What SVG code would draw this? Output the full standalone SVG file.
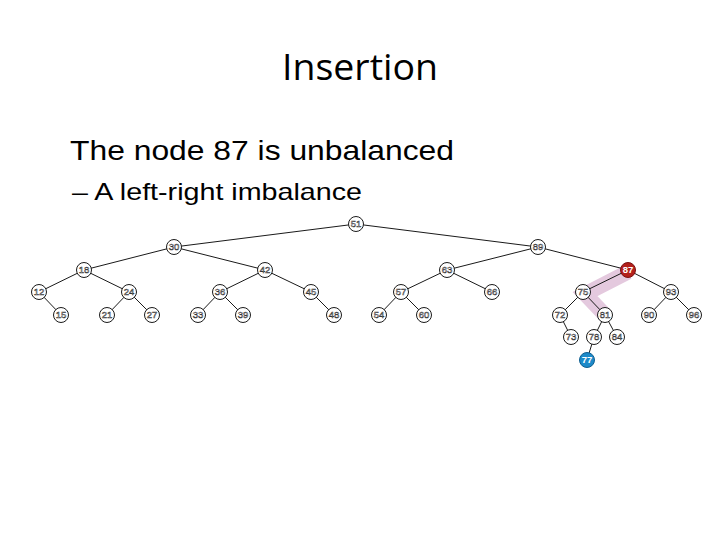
<svg xmlns="http://www.w3.org/2000/svg" width="720" height="540" viewBox="0 0 720 540">
<style>
.e{stroke:#1a1a1a;stroke-width:1;fill:none}
.n circle{fill:#fff;stroke:#1a1a1a;stroke-width:1}
.n text{font-family:"Liberation Sans",Arial,sans-serif;font-size:9.5px;fill:#fff;stroke:#333;stroke-width:0.5;text-anchor:middle}
.hot circle{fill:#b3201c;stroke:#7a1010}
.hot text{fill:#fff;stroke:none;font-weight:bold}
.new circle{fill:#1d8ac9;stroke:#0f5f90}
.new text{fill:#fff;stroke:none;font-weight:bold}
</style>
<rect width="720" height="540" fill="#fff"/>
<text x="360" y="80" font-family="'Open Sans','Noto Sans',sans-serif" font-size="37" text-anchor="middle" fill="#000" textLength="156" lengthAdjust="spacingAndGlyphs">Insertion</text>
<text x="70" y="160" font-family="'Liberation Sans',Arial,sans-serif" font-size="28" fill="#000" textLength="384" lengthAdjust="spacingAndGlyphs">The node 87 is unbalanced</text>
<text x="72" y="200" font-family="'Liberation Sans',Arial,sans-serif" font-size="24" fill="#000" textLength="290" lengthAdjust="spacingAndGlyphs">– A left-right imbalance</text>
<path d="M628,272 L585,294 L606,316" fill="none" stroke="#e4c9de" stroke-width="15" stroke-linejoin="miter"/>
<g id="connectors" class="e">
<line x1="356" y1="224" x2="174" y2="247"/>
<line x1="356" y1="224" x2="538" y2="247"/>
<line x1="174" y1="247" x2="84" y2="270"/>
<line x1="174" y1="247" x2="265" y2="270"/>
<line x1="538" y1="247" x2="447" y2="270"/>
<line x1="538" y1="247" x2="628" y2="270"/>
<line x1="84" y1="270" x2="39" y2="292"/>
<line x1="84" y1="270" x2="129" y2="292"/>
<line x1="265" y1="270" x2="220" y2="292"/>
<line x1="265" y1="270" x2="311" y2="292"/>
<line x1="447" y1="270" x2="401" y2="292"/>
<line x1="447" y1="270" x2="492" y2="292"/>
<line x1="628" y1="270" x2="583" y2="292"/>
<line x1="628" y1="270" x2="671" y2="292"/>
<line x1="39" y1="292" x2="61" y2="315"/>
<line x1="129" y1="292" x2="107" y2="315"/>
<line x1="129" y1="292" x2="152" y2="315"/>
<line x1="220" y1="292" x2="198" y2="315"/>
<line x1="220" y1="292" x2="243" y2="315"/>
<line x1="311" y1="292" x2="334" y2="315"/>
<line x1="401" y1="292" x2="379" y2="315"/>
<line x1="401" y1="292" x2="424" y2="315"/>
<line x1="583" y1="292" x2="560" y2="315"/>
<line x1="583" y1="292" x2="605" y2="315"/>
<line x1="671" y1="292" x2="649" y2="315"/>
<line x1="671" y1="292" x2="694" y2="315"/>
<line x1="560" y1="315" x2="571" y2="337"/>
<line x1="605" y1="315" x2="594" y2="337"/>
<line x1="605" y1="315" x2="617" y2="337"/>
<line x1="594" y1="337" x2="587" y2="360"/>
</g>
<g id="n51" class="n"><circle cx="356" cy="224" r="7.5"/><text x="356" y="227.4">51</text></g>
<g id="n30" class="n"><circle cx="174" cy="247" r="7.5"/><text x="174" y="250.4">30</text></g>
<g id="n89" class="n"><circle cx="538" cy="247" r="7.5"/><text x="538" y="250.4">89</text></g>
<g id="n18" class="n"><circle cx="84" cy="270" r="7.5"/><text x="84" y="273.4">18</text></g>
<g id="n42" class="n"><circle cx="265" cy="270" r="7.5"/><text x="265" y="273.4">42</text></g>
<g id="n63" class="n"><circle cx="447" cy="270" r="7.5"/><text x="447" y="273.4">63</text></g>
<g id="n87" class="n hot"><circle cx="628" cy="270" r="7.5"/><text x="628" y="273.4">87</text></g>
<g id="n12" class="n"><circle cx="39" cy="292" r="7.5"/><text x="39" y="295.4">12</text></g>
<g id="n24" class="n"><circle cx="129" cy="292" r="7.5"/><text x="129" y="295.4">24</text></g>
<g id="n36" class="n"><circle cx="220" cy="292" r="7.5"/><text x="220" y="295.4">36</text></g>
<g id="n45" class="n"><circle cx="311" cy="292" r="7.5"/><text x="311" y="295.4">45</text></g>
<g id="n57" class="n"><circle cx="401" cy="292" r="7.5"/><text x="401" y="295.4">57</text></g>
<g id="n66" class="n"><circle cx="492" cy="292" r="7.5"/><text x="492" y="295.4">66</text></g>
<g id="n75" class="n"><circle cx="583" cy="292" r="7.5"/><text x="583" y="295.4">75</text></g>
<g id="n93" class="n"><circle cx="671" cy="292" r="7.5"/><text x="671" y="295.4">93</text></g>
<g id="n15" class="n"><circle cx="61" cy="315" r="7.5"/><text x="61" y="318.4">15</text></g>
<g id="n21" class="n"><circle cx="107" cy="315" r="7.5"/><text x="107" y="318.4">21</text></g>
<g id="n27" class="n"><circle cx="152" cy="315" r="7.5"/><text x="152" y="318.4">27</text></g>
<g id="n33" class="n"><circle cx="198" cy="315" r="7.5"/><text x="198" y="318.4">33</text></g>
<g id="n39" class="n"><circle cx="243" cy="315" r="7.5"/><text x="243" y="318.4">39</text></g>
<g id="n48" class="n"><circle cx="334" cy="315" r="7.5"/><text x="334" y="318.4">48</text></g>
<g id="n54" class="n"><circle cx="379" cy="315" r="7.5"/><text x="379" y="318.4">54</text></g>
<g id="n60" class="n"><circle cx="424" cy="315" r="7.5"/><text x="424" y="318.4">60</text></g>
<g id="n72" class="n"><circle cx="560" cy="315" r="7.5"/><text x="560" y="318.4">72</text></g>
<g id="n81" class="n"><circle cx="605" cy="315" r="7.5"/><text x="605" y="318.4">81</text></g>
<g id="n90" class="n"><circle cx="649" cy="315" r="7.5"/><text x="649" y="318.4">90</text></g>
<g id="n96" class="n"><circle cx="694" cy="315" r="7.5"/><text x="694" y="318.4">96</text></g>
<g id="n73" class="n"><circle cx="571" cy="337" r="7.5"/><text x="571" y="340.4">73</text></g>
<g id="n78" class="n"><circle cx="594" cy="337" r="7.5"/><text x="594" y="340.4">78</text></g>
<g id="n84" class="n"><circle cx="617" cy="337" r="7.5"/><text x="617" y="340.4">84</text></g>
<g id="n77" class="n new"><circle cx="587" cy="360" r="7.5"/><text x="587" y="363.4">77</text></g>
</svg>
